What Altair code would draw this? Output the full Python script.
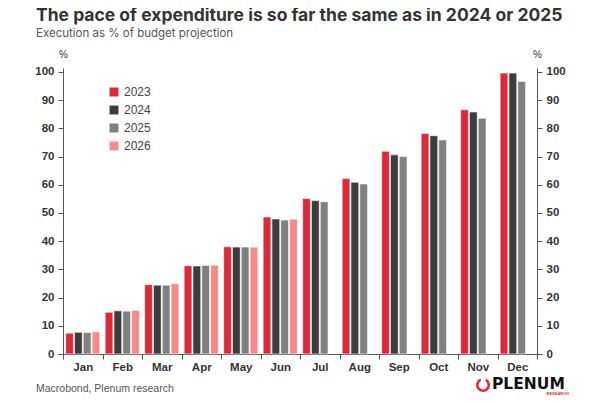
import altair as alt
import pandas as pd

# Data
months = ["Jan", "Feb", "Mar", "Apr", "May", "Jun",
          "Jul", "Aug", "Sep", "Oct", "Nov", "Dec"]
years = ["2023", "2024", "2025", "2026"]
v2023 = [7.4, 14.8, 24.6, 31.3, 38.0, 48.6, 55.1, 62.2, 71.9, 78.2, 86.6, 99.6]
v2024 = [7.7, 15.3, 24.4, 31.2, 37.9, 47.9, 54.4, 60.9, 70.6, 77.4, 85.8, 99.6]
v2025 = [7.6, 15.2, 24.4, 31.4, 37.9, 47.5, 54.0, 60.3, 70.0, 75.9, 83.6, 96.6]
v2026 = [7.8, 15.5, 24.9, 31.5, 37.9, 47.8]
colors = ["#dc2a3a", "#3d3d3d", "#808080", "#f48a8c"]
y_ticks = list(range(0, 101, 10))

rows = []
for yr, vals in zip(years, [v2023, v2024, v2025, v2026]):
    for m, v in zip(months, vals):
        rows.append({"month": m, "year": yr, "value": v})
df = pd.DataFrame(rows)

FONT = "Liberation Sans"
HEAD = "Inter"
TXT = "#333333"

x_enc = alt.X("month:N", sort=months,
              scale=alt.Scale(paddingInner=0, paddingOuter=0),
              axis=alt.Axis(title=None, tickBand="extent", labelAngle=0,
                            labelFontWeight="bold", labelFontSize=11.5,
                            labelColor=TXT, labelPadding=2, tickSize=5,
                            domainColor="#555", tickColor="#555"))
x_off = alt.XOffset("year:N", scale=alt.Scale(domain=years, paddingInner=0.12,
                                               paddingOuter=0.3))
y_scale = alt.Scale(domain=[0, 101.4], nice=False)


def y_axis(side):
    return alt.Axis(orient=side, values=y_ticks, grid=False, title="%",
                    titleAngle=0, titleX=0, titleY=-9, titleAlign="center",
                    titleFontSize=10, titleFontWeight="normal", titleColor=TXT,
                    labelFontWeight="bold", labelFontSize=11.5, labelColor=TXT,
                    labelPadding=4, tickSize=5, domainColor="#555",
                    tickColor="#555")


bars = alt.Chart(df).mark_bar(stroke="white", strokeWidth=0.6).encode(
    x=x_enc,
    xOffset=x_off,
    y=alt.Y("value:Q", scale=y_scale, axis=y_axis("left")),
    color=alt.Color("year:N", scale=alt.Scale(domain=years, range=colors),
                    legend=alt.Legend(title=None, orient="none", legendX=45,
                                      legendY=18, symbolType="square",
                                      symbolSize=80, symbolStrokeWidth=0,
                                      labelFontSize=12, labelColor="#444",
                                      labelFont=FONT, rowPadding=6)),
)

right = alt.Chart(df).mark_bar(opacity=0).encode(
    x=x_enc,
    xOffset=x_off,
    y=alt.Y("value:Q", scale=y_scale, axis=y_axis("right")),
)


def label(text, x, y, size, color, weight="normal", align="left", font=FONT):
    return alt.Chart(pd.DataFrame({"t": [text]})).mark_text(
        align=align, baseline="alphabetic", fontSize=size, fontWeight=weight,
        color=color, font=font
    ).encode(text="t:N", x=alt.value(x), y=alt.value(y))


title = label("The pace of expenditure is so far the same as in 2024 or 2025",
              -27, -47, 17.5, TXT, "bold", font=HEAD)
subtitle = label("Execution as % of budget projection", -27, -31.5, 11.5,
                 "#555", font=HEAD)
footer = label("Macrobond, Plenum research", -27, 324, 10.5, "#555")
logo = label("PLENUM", 429, 320.5, 15.5, "#111", "bold", font="DejaVu Sans")
logo_sub = label("RESEARCH", 506, 327, 4, "#dc2a3a", "bold", "right")
icon = alt.Chart(pd.DataFrame({"a": [0]})).mark_arc(color="#dc2a3a").encode(
    x=alt.value(420), y=alt.value(317), theta=alt.value(0.5),
    theta2=alt.value(5.9), radius=alt.value(7), radius2=alt.value(4.5))

chart = alt.layer(bars, right, title, subtitle, footer, logo, logo_sub, icon
                  ).resolve_axis(y="independent").properties(
    width=474, height=286,
    autosize=alt.AutoSizeParams(type="none"),
    padding={"left": 55, "top": 60, "right": 55, "bottom": 41},
).configure_view(stroke=None).configure_axis(labelFont=FONT, titleFont=FONT)

chart.save("out.html", embed_options={"renderer": "svg", "actions": False})
